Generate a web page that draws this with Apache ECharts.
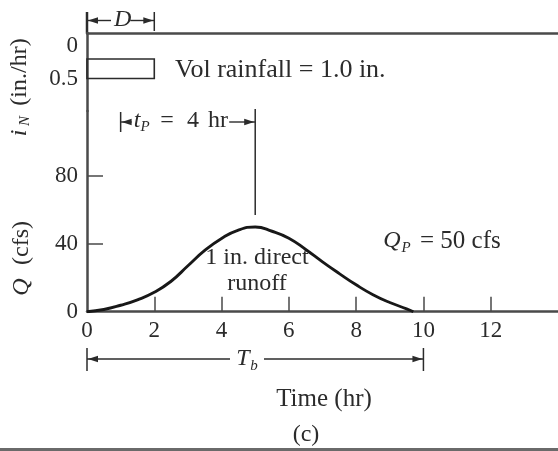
<!DOCTYPE html>
<html>
<head>
<meta charset="utf-8">
<title>Unit hydrograph</title>
<script src="https://cdn.jsdelivr.net/npm/echarts@6/dist/echarts.min.js"></script>
<style>
  html, body { margin: 0; padding: 0; background: #fff; }
  #chart { width: 558px; height: 451px; }
</style>
</head>
<body>
<div id="chart"></div>
<script>
  // direct runoff hydrograph: time (hr) / Q (cfs)
  var timeHr = [0, 0.5, 1, 1.5, 2, 2.5, 3, 3.5, 4, 4.5, 5, 5.5, 6, 6.5, 7, 7.5, 8, 8.5, 9, 9.5, 9.7];
  var flowCfs = [0, 1.3, 3.8, 7.0, 11.4, 17.9, 27.0, 36.0, 43.1, 48, 49.8, 47.3, 43.2, 36.6, 29.3, 22.4, 15.8, 10, 5.4, 1.7, 0];
  // rainfall block: start/end time (hr), drawn span on the i_N axis (in./hr)
  var rainTime = [0, 2];
  var rainIntensity = [0.2, 0.5];
  // tick labels
  var timeTicks = [0, 2, 4, 6, 8, 10, 12];
  var flowTicks = [0, 40, 80];
  var rainTicks = [0, 0.5];

  var serif = "'Liberation Serif', 'DejaVu Serif', serif";
  var ink = '#2b2b2b';
  var axisGray = '#4a4a4a';

  var chart = echarts.init(document.getElementById('chart'));

  var option = {
    animation: false,
    textStyle: { fontFamily: serif },
    grid: [
      { left: 87, right: -7, top: 33, height: 78 },
      { left: 87, right: -7, top: 111, height: 200.7 }
    ],
    xAxis: [{
      gridIndex: 0,
      type: 'value',
      position: 'top',
      min: 0,
      max: 14,
      axisLine: { show: true, onZero: false, lineStyle: { color: axisGray, width: 2.5 } },
      axisTick: { show: false },
      axisLabel: { show: false },
      splitLine: { show: false }
    }, {
      gridIndex: 1,
      type: 'value',
      min: 0,
      max: 14,
      interval: 2,
      axisLine: { show: true, onZero: false, lineStyle: { color: axisGray, width: 2.5 } },
      axisTick: {
        show: true, inside: true, length: 15,
        customValues: timeTicks.slice(1),
        lineStyle: { color: axisGray, width: 1.5 }
      },
      axisLabel: { customValues: timeTicks, margin: 8, fontSize: 23, color: ink, fontFamily: serif },
      splitLine: { show: false }
    }],
    yAxis: [{
      gridIndex: 0,
      type: 'value',
      inverse: true,
      min: -0.2,
      max: 1.0,
      axisLine: { show: true, onZero: false, lineStyle: { color: axisGray, width: 2.5 } },
      axisTick: { show: false },
      axisLabel: { customValues: rainTicks, margin: 9, fontSize: 23, color: ink, fontFamily: serif },
      splitLine: { show: false }
    }, {
      gridIndex: 1,
      type: 'value',
      min: 0,
      max: 118,
      interval: 40,
      axisLine: { show: true, onZero: false, lineStyle: { color: axisGray, width: 2.5 } },
      axisTick: {
        show: true, inside: true, length: 16,
        customValues: flowTicks.slice(1),
        lineStyle: { color: axisGray, width: 1.5 }
      },
      axisLabel: { customValues: flowTicks, margin: 9, fontSize: 23, color: ink, fontFamily: serif },
      splitLine: { show: false }
    }],
    series: [{
      name: 'rainfall',
      type: 'custom',
      xAxisIndex: 0,
      yAxisIndex: 0,
      data: [[rainTime[0], rainTime[1], rainIntensity[0], rainIntensity[1]]],
      renderItem: function (params, api) {
        var p0 = api.coord([api.value(0), api.value(2)]);
        var p1 = api.coord([api.value(1), api.value(3)]);
        return {
          type: 'rect',
          shape: { x: p0[0], y: p0[1], width: p1[0] - p0[0], height: p1[1] - p0[1] },
          style: { fill: 'none', stroke: ink, lineWidth: 1.6 }
        };
      }
    }, {
      name: 'runoff',
      type: 'line',
      xAxisIndex: 1,
      yAxisIndex: 1,
      smooth: 0.5,
      symbol: 'none',
      lineStyle: { color: '#181818', width: 2.9 },
      data: timeHr.map(function (t, i) { return [t, flowCfs[i]]; })
    }]
  };
  chart.setOption(option);

  // annotations (dimension arrows, notes, axis titles)
  function px(t) { return chart.convertToPixel({ xAxisIndex: 1 }, t); }
  function seg(x1, y1, x2, y2, w) {
    return { type: 'line', silent: true, shape: { x1: x1, y1: y1, x2: x2, y2: y2 },
      style: { stroke: ink, lineWidth: w || 1.4 } };
  }
  function head(x, y, dir) {
    return { type: 'polygon', silent: true,
      shape: { points: [[x, y], [x - dir * 10, y - 3.2], [x - dir * 10, y + 3.2]] },
      style: { fill: ink } };
  }
  function txt(x, y, s, size, italic, align, rot) {
    return { type: 'text', silent: true, x: x, y: y, rotation: rot || 0,
      style: {
        text: s, fill: ink,
        font: (italic ? 'italic ' : '') + size + 'px ' + serif,
        align: align || 'center', textAlign: align || 'center',
        verticalAlign: 'middle', textVerticalAlign: 'middle'
      } };
  }

  var g = [];
  var x0 = px(0), x1 = px(1), x2 = px(2), x5 = px(5), x10 = px(10);

  // D over the rainfall block
  g.push(seg(x0, 12, x0, 33, 2.5), seg(x2, 12, x2, 31, 1.5));
  g.push(seg(x0, 20.5, x0 + 24, 20.5), head(x0 + 1, 20.5, -1));
  g.push(seg(x2 - 24, 20.5, x2, 20.5), head(x2 - 1, 20.5, 1));
  g.push(txt((x0 + x2) / 2 + 2, 19.5, 'D', 24, true));

  g.push(txt(175, 70, 'Vol rainfall = 1.0 in.', 26, false, 'left'));

  // t_P
  g.push(seg(x1, 112, x1, 132, 1.5), seg(x5, 109, x5, 215, 1.5));
  g.push(seg(x1, 122, x1 + 11, 122), head(x1 + 1, 122, -1));
  g.push(seg(x5 - 26, 122, x5, 122), head(x5 - 1, 122, 1));
  g.push(txt(137, 121, 't', 24, true), txt(145, 127, 'P', 15, true));
  g.push(txt(167, 121, '=', 24), txt(193, 121, '4', 24), txt(218, 121, 'hr', 24));

  // runoff notes
  g.push(txt(257, 258, '1 in. direct', 24), txt(257, 284, 'runoff', 24));
  g.push(txt(392, 241, 'Q', 24, true), txt(406, 248, 'P', 15, true));
  g.push(txt(420, 241, '= 50 cfs', 25, false, 'left'));

  // T_b
  g.push(seg(x0, 348, x0, 371, 1.5), seg(x10, 348, x10, 371, 1.5));
  g.push(seg(x0, 359, 230, 359), head(x0 + 1, 359, -1));
  g.push(seg(264, 359, x10, 359), head(x10 - 1, 359, 1));
  g.push(txt(243, 359, 'T', 24, true), txt(254, 366, 'b', 15, true));

  g.push(txt(324, 399, 'Time (hr)', 25), txt(306, 435, '(c)', 24));

  // rotated axis titles
  var up = Math.PI / 2;
  g.push(txt(20, 133, 'i', 24, true, 'center', up), txt(25, 121, 'N', 15, true, 'center', up));
  g.push(txt(20, 72, '(in./hr)', 24, false, 'center', up));
  g.push(txt(22, 287, 'Q', 24, true, 'center', up), txt(22, 243, '(cfs)', 24, false, 'center', up));

  // bottom border of the figure
  g.push({ type: 'rect', silent: true, shape: { x: 0, y: 448, width: 558, height: 3 },
    style: { fill: '#6a6a6a' } });

  chart.setOption({ graphic: g });
</script>
</body>
</html>
